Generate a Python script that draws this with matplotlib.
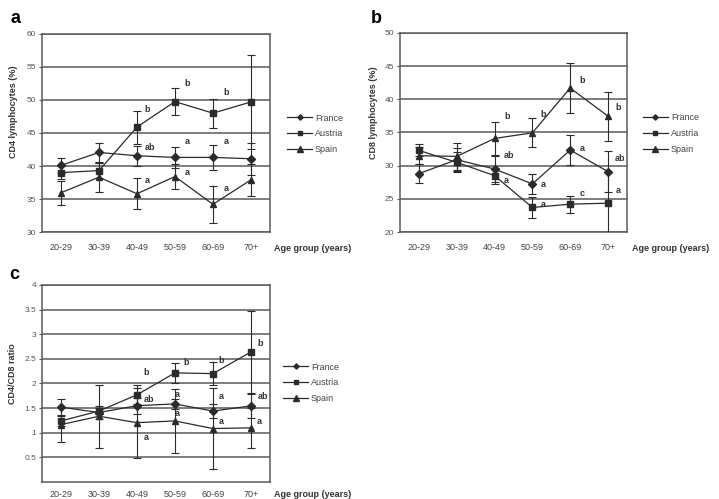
import numpy as np
import matplotlib.pyplot as plt

plt.rcParams['font.family'] = ['Liberation Sans', 'DejaVu Sans']

groups = ['20-29', '30-39', '40-49', '50-59', '60-69', '70+']
countries = ['France', 'Austria', 'Spain']

# panel a: CD4 lymphocytes (%)
cd4_mean = {'France': [40.1, 42.05, 41.55, 41.3, 41.3, 41.1],
            'Austria': [39.0, 39.3, 45.9, 49.75, 48.0, 49.7],
            'Spain': [35.95, 38.3, 35.8, 38.4, 34.2, 37.9]}
cd4_err = {'France': [1.1, 1.5, 1.5, 1.55, 1.9, 2.4],
           'Austria': [1.0, 1.1, 2.5, 2.0, 2.2, 7.1],
           'Spain': [1.8, 2.2, 2.35, 1.9, 2.8, 2.4]}
cd4_letters = [(2.76, 48.5, 'b'), (2.84, 42.8, 'ab'), (2.76, 37.8, 'a'),
               (3.82, 52.5, 'b'), (3.82, 43.7, 'a'), (3.82, 39.0, 'a'),
               (4.86, 51.1, 'b'), (4.86, 43.7, 'a'), (4.86, 36.6, 'a')]

# panel b: CD8 lymphocytes (%)
cd8_mean = {'France': [28.8, 30.9, 29.5, 27.25, 32.35, 29.1],
            'Austria': [32.3, 30.5, 28.5, 23.7, 24.2, 24.35],
            'Spain': [31.5, 31.4, 34.1, 34.95, 41.7, 37.45]}
cd8_err = {'France': [1.4, 1.7, 1.9, 1.55, 2.3, 3.05],
           'Austria': [0.9, 1.5, 1.2, 1.6, 1.3, 4.7],
           'Spain': [1.3, 2.0, 2.5, 2.2, 3.8, 3.7]}
cd8_letters = [(2.82, 37.4, 'b'), (2.88, 31.6, 'ab'), (2.82, 27.7, 'a'),
               (3.78, 37.75, 'b'), (3.78, 27.1, 'a'), (3.78, 24.2, 'a'),
               (4.81, 42.9, 'b'), (4.81, 32.6, 'a'), (4.81, 25.8, 'c'),
               (5.78, 38.8, 'b'), (5.82, 31.1, 'ab'), (5.76, 26.2, 'a')]

# panel c: CD4/CD8 ratio
ratio_mean = {'France': [1.52, 1.41, 1.55, 1.585, 1.44, 1.545],
              'Austria': [1.24, 1.44, 1.77, 2.215, 2.2, 2.64],
              'Spain': [1.165, 1.335, 1.205, 1.24, 1.085, 1.10]}
ratio_err = {'France': [0.16, 0.13, 0.16, 0.1, 0.15, 0.24],
             'Austria': [0.1, 0.06, 0.19, 0.2, 0.24, 0.83],
             'Spain': [0.36, 0.64, 0.71, 0.65, 0.83, 0.4]}
ratio_letters = [(2.74, 2.215, 'b'), (2.83, 1.68, 'ab'), (2.74, 0.90, 'a'),
                 (3.79, 2.42, 'b'), (3.56, 1.775, 'a'), (3.56, 1.39, 'a'),
                 (4.71, 2.47, 'b'), (4.73, 1.73, 'a'), (4.71, 1.23, 'a'),
                 (5.74, 2.81, 'b'), (5.82, 1.74, 'ab'), (5.72, 1.23, 'a')]

markers = {'France': 'D', 'Austria': 's', 'Spain': '^'}
msizes = {'France': 3.6, 'Austria': 4.8, 'Spain': 5.0}
gray = '#5a5a5a'
dark = '#2b2b2b'

fig = plt.figure(figsize=(7.19, 4.99), dpi=100)


def draw_panel(rect, means, errs, letters, yticks, ylim, ylabel, ylab_pos, tag,
               leg_anchor, tag_pos, xpad):
    ax = fig.add_axes(rect)
    x = np.arange(len(groups)) + 0.5
    handles = []
    for c in countries:
        eb = ax.errorbar(x, means[c], yerr=errs[c], color=dark, lw=0.9,
                         marker=markers[c], ms=msizes[c], mfc=dark, mec=dark,
                         elinewidth=0.8, capsize=2.6, capthick=0.8, zorder=3)
        handles.append(eb[0])
    for v in yticks:
        ax.axhline(v, color=gray, lw=1.1, zorder=1)
    ax.set_xlim(0, 6)
    ax.set_ylim(*ylim)
    ax.set_yticks(yticks)
    ax.set_yticklabels([('%g' % v) for v in yticks])
    ax.set_xticks(x)
    ax.set_xticklabels(groups)
    ax.tick_params(axis='x', length=0, pad=xpad, labelsize=6.5, labelcolor='#444444')
    ax.tick_params(axis='y', length=2.5, width=0.8, color=gray, pad=1.5,
                   labelsize=6, labelcolor='#555555')
    for s in ax.spines.values():
        s.set_color(gray)
        s.set_linewidth(1.1)
    ax.set_ylabel(ylabel, fontsize=6.5, fontweight='bold', color='#333333')
    ax.yaxis.set_label_coords(*ylab_pos)
    for lx, ly, t in letters:
        ax.text(lx, ly, t, fontsize=6.5, fontweight='bold', color='#333333',
                ha='center', va='center')
    ax.annotate('Age group (years)', xy=(1.02, 0), xycoords='axes fraction',
                xytext=(0, -(xpad + 3.8)), textcoords='offset points',
                fontsize=6.5, fontweight='bold', color='#333333', ha='left', va='center')
    leg = ax.legend(handles, countries, loc='center left', bbox_to_anchor=leg_anchor,
                    frameon=False, fontsize=6.5, handlelength=2.8, handletextpad=0.3,
                    labelspacing=0.75, borderpad=0, borderaxespad=0, markerscale=0.75)
    for t in leg.get_texts():
        t.set_color('#444444')
    fig.text(tag_pos[0], tag_pos[1], tag, fontsize=13, fontweight='bold',
             ha='center', va='center')
    return ax


draw_panel([0.0584, 0.535, 0.317, 0.397], cd4_mean, cd4_err, cd4_letters,
           [30, 35, 40, 45, 50, 55, 60], (30, 60), 'CD4 lymphocytes (%)', (-0.105, 0.606),
           'a', (1.075, 0.496), (0.022, 0.963), 8)
draw_panel([0.5563, 0.535, 0.3157, 0.399], cd8_mean, cd8_err, cd8_letters,
           [20, 25, 30, 35, 40, 45, 50], (20, 50), 'CD8 lymphocytes (%)', (-0.097, 0.60),
           'b', (1.07, 0.494), (0.524, 0.963), 8)
draw_panel([0.0584, 0.034, 0.317, 0.395], ratio_mean, ratio_err, ratio_letters,
           [0.5, 1, 1.5, 2, 2.5, 3, 3.5, 4], (0, 4), 'CD4/CD8 ratio', (-0.108, 0.548),
           'c', (1.057, 0.503), (0.02, 0.45), 5.5)

fig.savefig('out.png', dpi=100)
